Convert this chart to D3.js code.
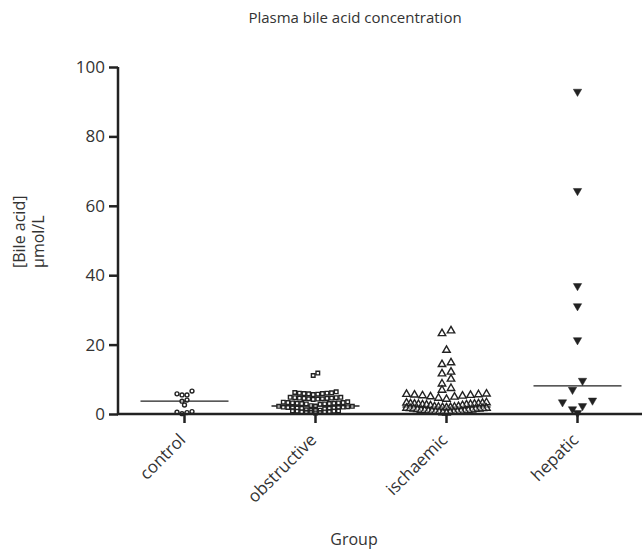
<!DOCTYPE html>
<html>
<head>
<meta charset="utf-8">
<script src="https://cdn.jsdelivr.net/npm/d3@7"></script>
<style>
  body { margin: 0; background: #fff; }
  text { font-family: "Open Sans", sans-serif; fill: #333; }
</style>
</head>
<body>
<div id="chart"></div>
<script>
var groups = ["control", "obstructive", "ischaemic", "hepatic"];
var yTicks = [0, 20, 40, 60, 80, 100];

var control = [6.6, 5.8, 5.5, 5.5, 4.0, 3.7, 2.6, 0.7, 0.5, 0.4, 0.1];
var obstructive = [11.8, 11.1,
  6.4, 6.1, 6.0, 5.9, 5.7, 5.8, 6.2, 5.6, 5.9, 6.0,
  4.7, 4.5, 4.8, 4.4, 4.6, 4.3, 4.5, 4.7, 4.2, 4.6, 4.4, 4.8,
  3.4, 3.1, 3.3, 2.9, 3.2, 3.0, 3.5, 2.8, 3.1, 3.3, 2.9, 3.2, 3.0,
  2.1, 1.8, 2.3, 1.6, 2.0, 1.9, 2.2, 1.7, 2.4, 1.5, 2.0, 1.8, 2.2, 1.6, 1.9,
  0.9, 0.6, 1.1, 0.4, 0.8, 1.0, 0.5, 0.7, 1.2, 0.3, 0.9, 0.6, 0.8, 0.4, 1.0];
var ischaemic = [24.0, 23.2, 18.4, 14.8, 14.3, 12.1, 11.6, 10.1, 8.7, 7.4, 6.9,
  5.8, 5.7, 5.6, 5.4, 5.2, 4.9, 4.6, 4.3, 5.5, 5.3, 5.0,
  3.2, 2.9, 3.0, 2.7, 3.1, 2.8, 2.6, 3.3, 2.5, 2.9, 2.7, 3.0, 2.4, 2.8,
  2.0, 1.7, 1.9, 1.5, 2.2, 1.6, 1.8, 1.4, 2.1, 1.3, 1.9, 1.6, 1.7, 1.5, 2.0,
  1.0, 0.7, 0.9, 0.5, 0.8, 1.1, 0.6, 0.4, 0.9, 0.7, 1.2, 0.3, 0.8, 0.6, 1.0];
var hepatic = [92.9, 64.3, 36.9, 31.1, 21.3, 9.6, 7.0, 3.9, 3.4, 2.3, 1.4, 0.3];
var medians = [3.7, 2.3, 2.0, 8.1];

var seriesValues = [control, obstructive, ischaemic, hepatic];

var width = 642, height = 550;
var ink = "#222";

var svg = d3.select("#chart").append("svg")
  .attr("width", width)
  .attr("height", height);

var y = d3.scaleLinear().domain([0, 100]).range([414, 67]);
var x = d3.scaleBand().domain(groups).range([119, 643]).padding(0);

// marker styles per group
var markers = [
  {type: d3.symbolCircle, size: 12, fill: false, gap: 5, rowH: 4.5, rot: 0},
  {type: d3.symbolSquare, size: 13, fill: false, gap: 4.6, rowH: 4.5, rot: 0},
  {type: d3.symbolTriangle, size: 24, fill: false, gap: 9, rowH: 5.5, rot: 0},
  {type: d3.symbolTriangle, size: 30, fill: true, gap: 10, rowH: 9.5, rot: 180}
];

// column scatter: group close values into rows, spread each row from the centre out
var layout = function(values, m, maxW) {
  var sorted = values.map(function(v) { return {v: v}; })
    .sort(function(a, b) { return b.v - a.v; });
  var rows = [];
  sorted.forEach(function(p) {
    var last = rows[rows.length - 1];
    if (last && y(p.v) - y(last[0].v) < m.rowH) last.push(p);
    else rows.push([p]);
  });
  rows.forEach(function(pts) {
    pts.sort(function(a, b) { return a.v - b.v; });
    var n = pts.length;
    var gap = Math.min(m.gap, maxW / Math.max(n - 1, 1));
    var slots = d3.range(n).map(function(i) { return (i - (n - 1) / 2) * gap; });
    slots.sort(function(a, b) { return Math.abs(a) - Math.abs(b) || a - b; });
    pts.forEach(function(p, i) { p.dx = slots[i]; });
  });
  return sorted;
};

// median lines
svg.append("g").selectAll("line")
  .data(groups)
  .enter().append("line")
  .attr("x1", function(d) { return x(d) + x.bandwidth() / 2 - 44; })
  .attr("x2", function(d) { return x(d) + x.bandwidth() / 2 + 44; })
  .attr("y1", function(d, i) { return y(medians[i]); })
  .attr("y2", function(d, i) { return y(medians[i]); })
  .attr("stroke", ink)
  .attr("stroke-width", 1.4);

// points
groups.forEach(function(g, gi) {
  var m = markers[gi];
  var pts = layout(seriesValues[gi], m, 80);
  var cx = x(g) + x.bandwidth() / 2;
  svg.append("g")
    .attr("class", "pts-" + g)
    .selectAll("path")
    .data(pts)
    .enter().append("path")
    .attr("d", d3.symbol().type(m.type).size(m.size))
    .attr("transform", function(d) {
      return "translate(" + (cx + d.dx) + "," + y(d.v) + ") rotate(" + m.rot + ")";
    })
    .attr("fill", m.fill ? ink : "#fff")
    .attr("fill-opacity", m.fill ? 1 : 0.5)
    .attr("stroke", ink)
    .attr("stroke-width", m.fill ? 0.5 : 1.4);
});

// y axis
var yAxis = svg.append("g")
  .attr("transform", "translate(118,0)")
  .style("color", "#2a2a2a")
  .call(d3.axisLeft(y).tickValues(yTicks).tickSize(9).tickPadding(4));
yAxis.select(".domain").attr("stroke", ink).attr("stroke-width", 2.5)
  .attr("d", "M0," + y(100) + "V" + y(0));
yAxis.selectAll(".tick line").attr("stroke", ink).attr("stroke-width", 2.5);
yAxis.selectAll(".tick text").style("font-size", "17px").style("fill", "#333");

// x axis
var xAxis = svg.append("g")
  .attr("transform", "translate(0,414)")
  .style("color", "#2a2a2a")
  .call(d3.axisBottom(x).tickSize(9).tickSizeOuter(0));
xAxis.select(".domain").attr("stroke", ink).attr("stroke-width", 2.5)
  .attr("d", "M117,0H642");
xAxis.selectAll(".tick line").attr("stroke", ink).attr("stroke-width", 2.5);
xAxis.selectAll(".tick text")
  .style("font-size", "17px")
  .style("fill", "#333")
  .attr("text-anchor", "end")
  .attr("dy", null)
  .attr("y", 0)
  .attr("transform", "translate(2,27) rotate(-45)");

// titles
svg.append("text")
  .attr("x", 355).attr("y", 23)
  .attr("text-anchor", "middle")
  .style("font-size", "15px")
  .text("Plasma bile acid concentration");

svg.append("text")
  .attr("x", 354).attr("y", 545)
  .attr("text-anchor", "middle")
  .style("font-size", "16px")
  .text("Group");

var yl = svg.append("text")
  .attr("transform", "translate(0,268) rotate(-90)")
  .attr("text-anchor", "start")
  .style("font-size", "16px");
yl.append("tspan").attr("x", 0).attr("y", 25).text("[Bile acid]");
yl.append("tspan").attr("x", 0).attr("y", 44).text("\u00b5mol/L");
</script>
</body>
</html>
